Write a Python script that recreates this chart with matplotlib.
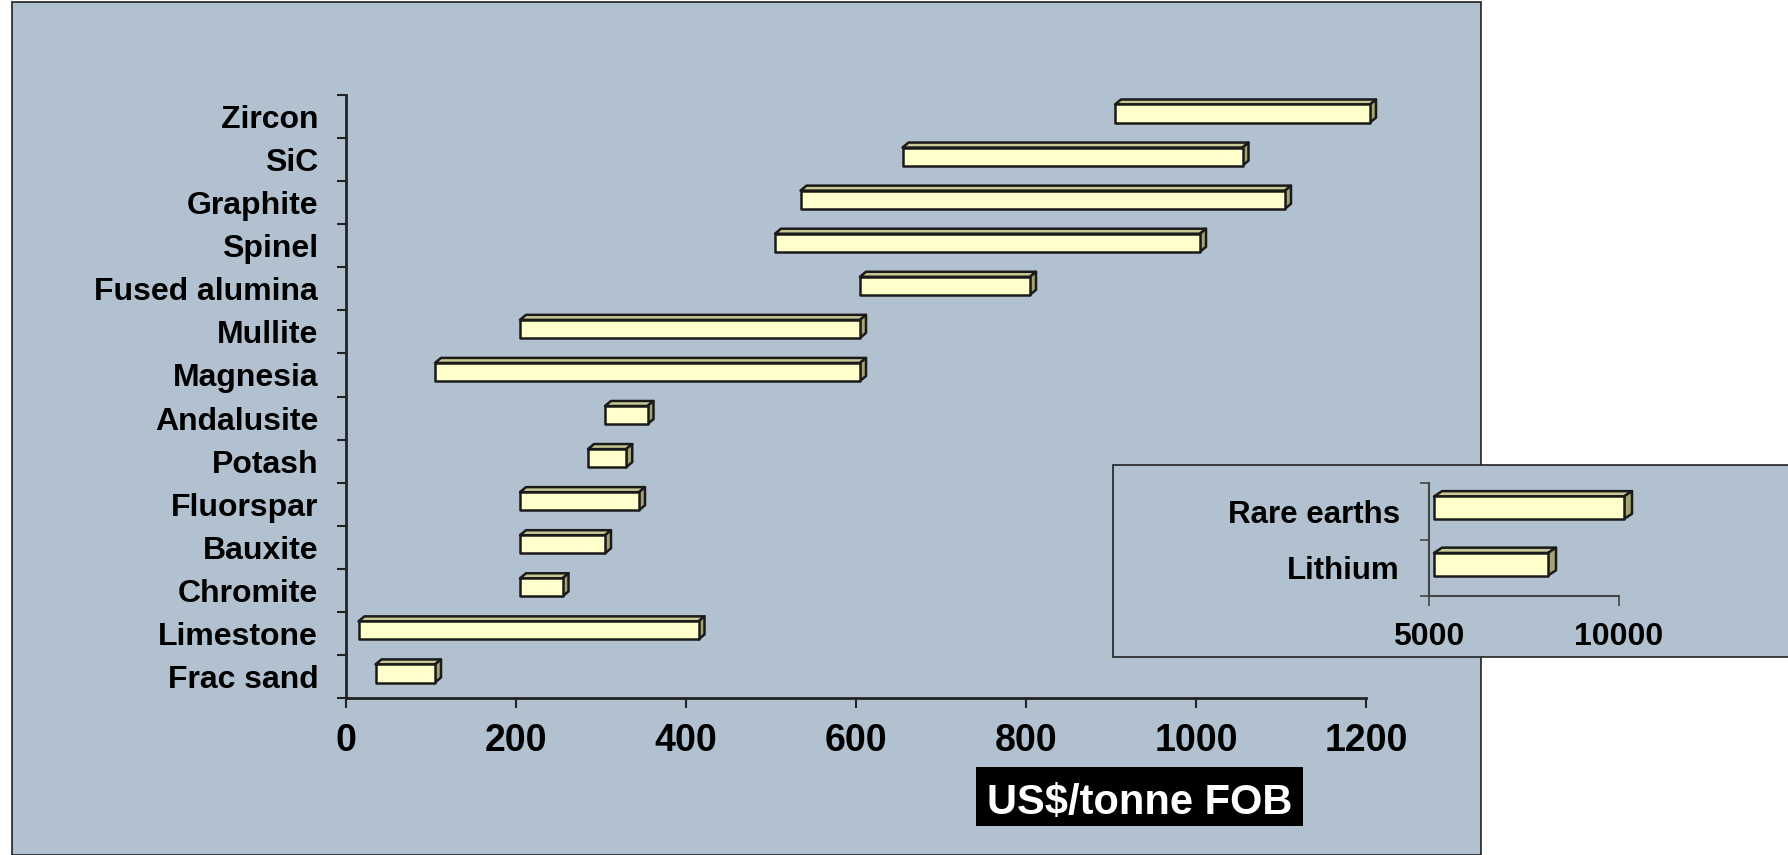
import matplotlib
matplotlib.use("Agg")
import matplotlib.pyplot as plt
from matplotlib.patches import Rectangle, Polygon
import numpy as np

plt.rcParams['font.family'] = ['Liberation Sans', 'DejaVu Sans']
plt.rcParams['font.weight'] = 'bold'

# price ranges, US$/tonne FOB (bottom to top)
minerals = ['Frac sand', 'Limestone', 'Chromite', 'Bauxite', 'Fluorspar', 'Potash',
            'Andalusite', 'Magnesia', 'Mullite', 'Fused alumina', 'Spinel',
            'Graphite', 'SiC', 'Zircon']
low = [30, 10, 200, 200, 200, 280, 300, 100, 200, 600, 500, 530, 650, 900]
high = [100, 410, 250, 300, 340, 325, 350, 600, 600, 800, 1000, 1100, 1050, 1200]

inset_minerals = ['Lithium', 'Rare earths']
inset_low = [5000, 5000]
inset_high = [8000, 10000]

W, H = 1788, 855
BG = '#B1C1CF'
FRONT = '#FFFFCC'
TOP = '#C9C995'
SIDE = '#A5A574'

fig = plt.figure(figsize=(W / 100, H / 100), dpi=100)
fig.patch.set_facecolor('white')

# grey-blue panels
fig.add_artist(Rectangle((12 / W, 0), (1481 - 12) / W, (855 - 11) / H + 0.01,
                         transform=fig.transFigure, fc=BG, ec='#222222', lw=1.2, zorder=0))
fig.add_artist(Rectangle((1113 / W, 1 - 657 / H), (1800 - 1113) / W, (657 - 465) / H,
                         transform=fig.transFigure, fc=BG, ec='#222222', lw=1.2, zorder=0.5))


def bar3d(ax, y, x0, x1, h, dx, dy, off):
    pos = ax.get_position()
    xl, yl = ax.get_xlim(), ax.get_ylim()
    sx = (xl[1] - xl[0]) / (pos.width * W)
    sy = (yl[1] - yl[0]) / (pos.height * H)
    a = x0 + off[0] * sx
    b = x1 + off[0] * sx
    yb = y - h / 2 + off[1] * sy
    yt = y + h / 2 + off[1] * sy
    ddx, ddy = dx * sx, dy * sy
    kw = dict(ec='#1a1a1a', lw=1.8, clip_on=False, joinstyle='round')
    ax.add_patch(Polygon([(a, yt), (b, yt), (b + ddx, yt + ddy), (a + ddx, yt + ddy)], fc=TOP, **kw))
    ax.add_patch(Polygon([(b, yb), (b, yt), (b + ddx, yt + ddy), (b + ddx, yb + ddy)], fc=SIDE, **kw))
    ax.add_patch(Rectangle((a, yb), b - a, yt - yb, fc=FRONT, **kw))


def style(ax, color, lw):
    ax.set_facecolor('none')
    for s in ['top', 'right']:
        ax.spines[s].set_visible(False)
    for s in ['left', 'bottom']:
        ax.spines[s].set_color(color)
        ax.spines[s].set_linewidth(lw)


# main chart
ax = fig.add_axes([346 / W, 1 - 698 / H, (1366 - 346) / W, (698 - 95) / H])
ax.set_zorder(1)
ax.set_xlim(0, 1200)
ax.set_ylim(-0.5, len(minerals) - 0.5)
style(ax, '#222222', 2)
for i in range(len(minerals)):
    bar3d(ax, i, low[i], high[i], 0.42, 6, 5, (4, 3))
ax.set_xticks(np.arange(0, 1201, 200))
ax.tick_params(axis='x', length=7, width=1.5, color='#222222', pad=11, labelsize=27)
ax.set_yticks(range(len(minerals)), minerals)
ax.set_yticks(np.arange(-0.5, len(minerals), 1), minor=True)
ax.tick_params(axis='y', which='major', length=0, pad=20, labelsize=23)
ax.tick_params(axis='y', which='minor', length=6.5, width=1.5, color='#222222')

# inset for the expensive ones
ax2 = fig.add_axes([1429 / W, 1 - 596 / H, (1619 - 1429) / W, (596 - 483) / H])
ax2.set_zorder(2)
ax2.set_xlim(5000, 10000)
ax2.set_ylim(-0.5, 1.5)
style(ax2, '#444444', 1.5)
for i in range(len(inset_minerals)):
    bar3d(ax2, i, inset_low[i], inset_high[i], 0.40, 8, 5.3, (5, 3.5))
ax2.set_xticks([5000, 10000])
ax2.tick_params(axis='x', length=7, width=1.2, color='#444444', pad=12, labelsize=23)
ax2.set_yticks([0, 1], inset_minerals)
ax2.set_yticks([-0.5, 0.5, 1.5], minor=True)
ax2.tick_params(axis='y', which='major', length=0, pad=21, labelsize=22.5)
ax2.tick_params(axis='y', which='minor', length=6.5, width=1.2, color='#444444')

# unit label
fig.add_artist(Rectangle((976 / W, 1 - 826 / H), 327 / W, 59 / H,
                         transform=fig.transFigure, fc='black', ec='none', zorder=3))
fig.text(1139.5 / W, 1 - 814 / H, 'US$/tonne FOB', color='white', fontsize=30,
         fontweight='bold', ha='center', va='baseline', zorder=4)

fig.savefig('out.png', dpi=100, facecolor='white')
